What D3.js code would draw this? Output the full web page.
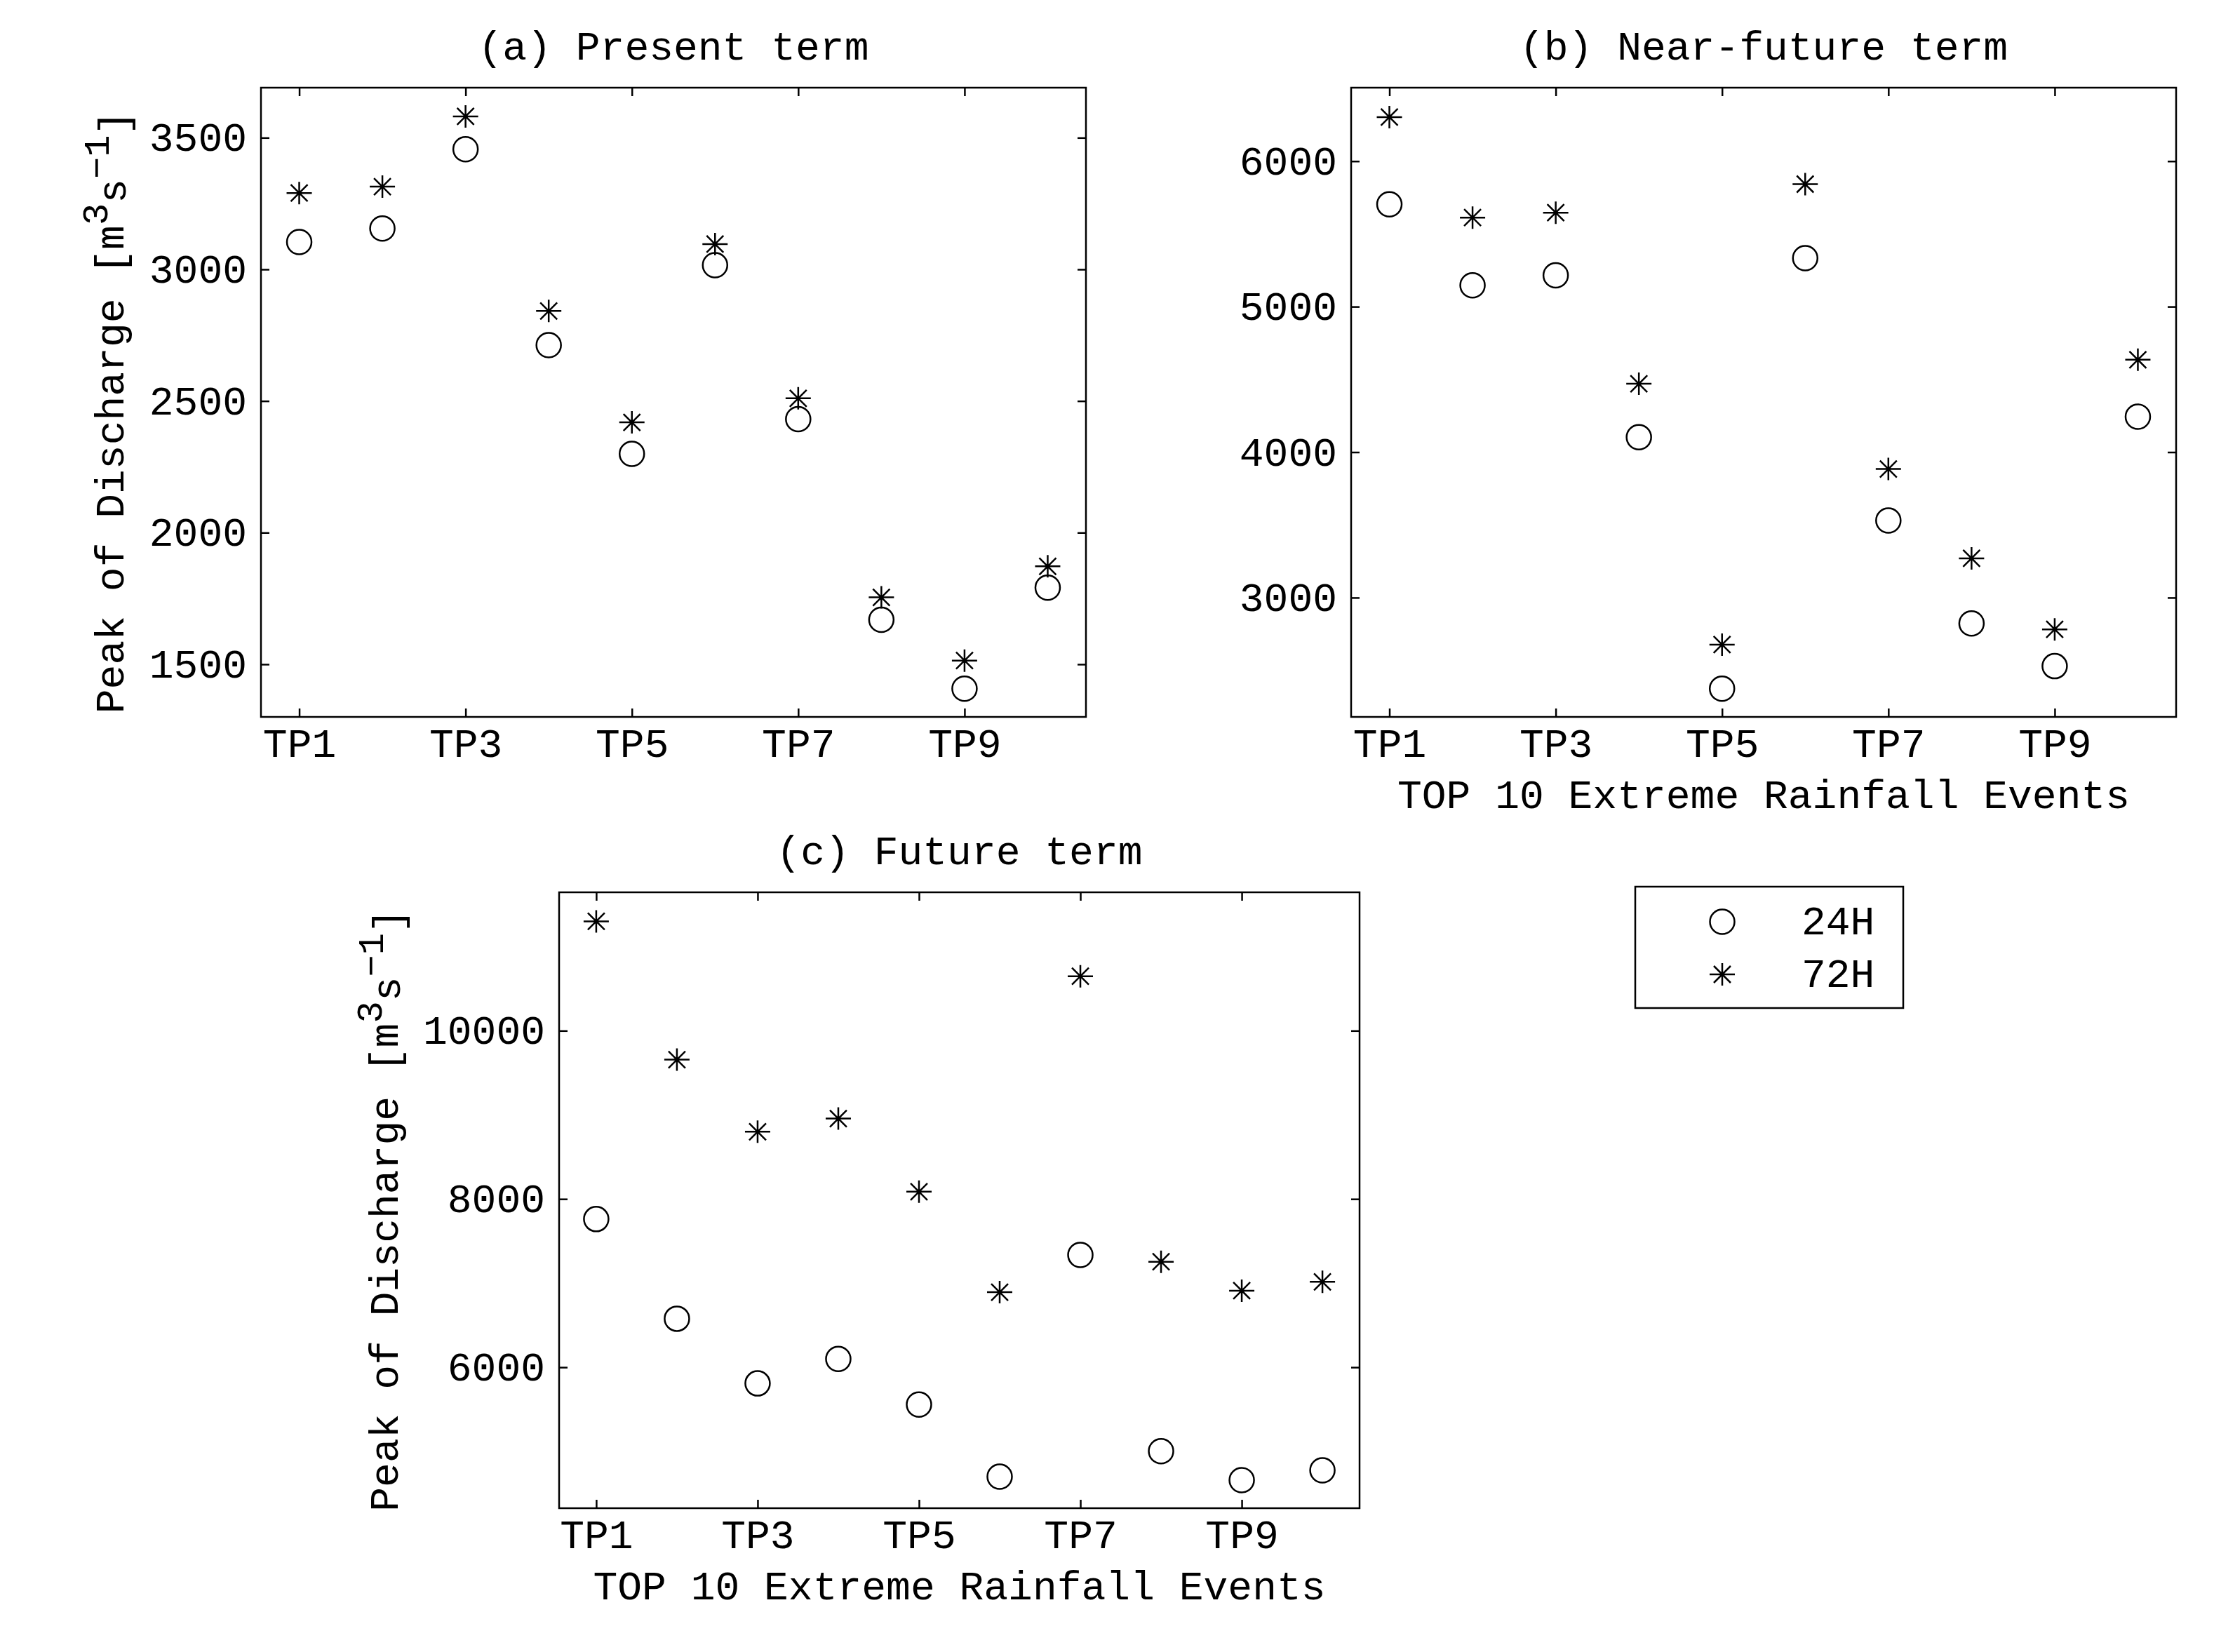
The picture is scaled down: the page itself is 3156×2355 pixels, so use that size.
<!DOCTYPE html>
<html>
<head>
  <meta charset="utf-8">
  <title>Peak of Discharge</title>
  <script src="https://d3js.org/d3.v7.min.js"></script>
  <style>
    body { margin: 0; background: #fff; }
    svg text { font-family: "Liberation Mono", "DejaVu Sans Mono", monospace; font-size: 58px; fill: #000; }
    .domain { display: none; }
    .tick line { stroke: #000; stroke-width: 2.5; }
  </style>
</head>
<body>
  <div id="chart"></div>
  <script>
    // Events and tick labels
    const events = ["TP1", "TP2", "TP3", "TP4", "TP5", "TP6", "TP7", "TP8", "TP9", "TP10"];
    const xTicks = [1, 3, 5, 7, 9];

    // Peak discharge (m3/s)
    const present24 = [3104, 3155, 3456, 2712, 2299, 3016, 2431, 1669, 1407, 1791];
    const present72 = [3290, 3314, 3581, 2842, 2419, 3096, 2510, 1754, 1514, 1872];
    const near24 = [5703, 5147, 5215, 4103, 2374, 5333, 3530, 2822, 2529, 4244];
    const near72 = [6303, 5612, 5646, 4470, 2677, 5842, 3884, 3270, 2782, 4635];
    const future24 = [7761, 6577, 5808, 6099, 5557, 4700, 7335, 5003, 4659, 4775];
    const future72 = [11300, 9656, 8799, 8956, 8087, 6892, 10647, 7254, 6910, 7015];

    const presentTicks = [1500, 2000, 2500, 3000, 3500];
    const nearTicks = [3000, 4000, 5000, 6000];
    const futureTicks = [6000, 8000, 10000];

    const seriesNames = ["24H", "72H"];

    const W = 3156, H = 2355;
    const svg = d3.select("#chart").append("svg")
      .attr("width", W).attr("height", H);

    const panels = [
      { title: "(a) Present term", s24: present24, s72: present72, yTicks: presentTicks,
        yDomain: [1300, 3690], box: [372, 125, 1548, 1022], ylabel: true, xlabel: false },
      { title: "(b) Near-future term", s24: near24, s72: near72, yTicks: nearTicks,
        yDomain: [2180, 6505], box: [1926, 125, 3102, 1022], ylabel: false, xlabel: true },
      { title: "(c) Future term", s24: future24, s72: future72, yTicks: futureTicks,
        yDomain: [4325, 11645], box: [797, 1272, 1938, 2150], ylabel: true, xlabel: true }
    ];

    // star marker like matlab '*'
    function star(g, cx, cy) {
      const h = 18, v = 16, d = 12;
      const p = `M${cx - h},${cy}L${cx + h},${cy}M${cx},${cy - v}L${cx},${cy + v}` +
        `M${cx - d},${cy - d}L${cx + d},${cy + d}M${cx - d},${cy + d}L${cx + d},${cy - d}`;
      g.append("path").attr("d", p).attr("stroke", "#000").attr("stroke-width", 2.5).attr("fill", "none");
    }

    function ylabelText(g, x, y) {
      const t = g.append("text")
        .attr("transform", `translate(${x},${y}) rotate(-90)`)
        .attr("text-anchor", "middle");
      t.append("tspan").text("Peak of Discharge [m");
      t.append("tspan").attr("dy", "-0.45em").attr("font-size", "52px").text("3");
      t.append("tspan").attr("dy", "0.45em").text("s");
      t.append("tspan").attr("dy", "-0.45em").attr("font-size", "52px").text("\u22121");
      t.append("tspan").attr("dy", "0.45em").text("]");
    }

    panels.forEach(p => {
      const [x0, y0, x1, y1] = p.box;
      const g = svg.append("g");

      const x = d3.scaleLinear().domain([0.54, 10.46]).range([x0, x1]);
      const y = d3.scaleLinear().domain(p.yDomain).range([y1, y0]);

      // axes with inward ticks
      const bottom = g.append("g").attr("transform", `translate(0,${y1})`)
        .call(d3.axisBottom(x).tickValues(xTicks).tickSize(-12).tickPadding(0)
          .tickFormat(d => events[d - 1]));
      bottom.selectAll("text").attr("y", 57).attr("dy", null);

      g.append("g").attr("transform", `translate(0,${y0})`)
        .call(d3.axisTop(x).tickValues(xTicks).tickSize(-12).tickFormat(""));

      g.append("g").attr("transform", `translate(${x0},0)`)
        .call(d3.axisLeft(y).tickValues(p.yTicks).tickSize(-12).tickPadding(20).tickFormat(d3.format("d")))
        .selectAll("text").attr("dy", "0.32em");

      g.append("g").attr("transform", `translate(${x1},0)`)
        .call(d3.axisRight(y).tickValues(p.yTicks).tickSize(-12).tickFormat(""));

      g.selectAll(".tick text").attr("font-family", null).attr("font-size", null).attr("fill", "#000");

      g.append("rect")
        .attr("x", x0).attr("y", y0).attr("width", x1 - x0).attr("height", y1 - y0)
        .attr("fill", "none").attr("stroke", "#000").attr("stroke-width", 2.5);

      // markers
      g.selectAll("circle.s24").data(p.s24).enter().append("circle")
        .attr("class", "s24")
        .attr("cx", (d, i) => x(i + 1)).attr("cy", d => y(d))
        .attr("r", 17.5).attr("fill", "none").attr("stroke", "#000").attr("stroke-width", 2.5);

      p.s72.forEach((d, i) => star(g, x(i + 1), y(d)));

      g.append("text")
        .attr("x", (x0 + x1) / 2).attr("y", y0 - 40)
        .attr("text-anchor", "middle").text(p.title);

      if (p.xlabel) {
        g.append("text")
          .attr("x", (x0 + x1) / 2).attr("y", y1 + 130)
          .attr("text-anchor", "middle").text("TOP 10 Extreme Rainfall Events");
      }
      if (p.ylabel) {
        const lx = p.yTicks[p.yTicks.length - 1] >= 10000 ? x0 - 230 : x0 - 196;
        ylabelText(g, lx, (y0 + y1) / 2 + 14);
      }
    });

    // legend
    const lg = svg.append("g");
    lg.append("rect").attr("x", 2331).attr("y", 1264).attr("width", 382).attr("height", 173)
      .attr("fill", "#fff").attr("stroke", "#000").attr("stroke-width", 2.5);
    lg.append("circle").attr("cx", 2455).attr("cy", 1314).attr("r", 17.5)
      .attr("fill", "none").attr("stroke", "#000").attr("stroke-width", 2.5);
    star(lg, 2455, 1389);
    lg.selectAll("text.leg").data(seriesNames).enter().append("text")
      .attr("class", "leg")
      .attr("x", 2568).attr("y", (d, i) => 1332 + i * 75)
      .text(d => d);
  </script>
</body>
</html>
